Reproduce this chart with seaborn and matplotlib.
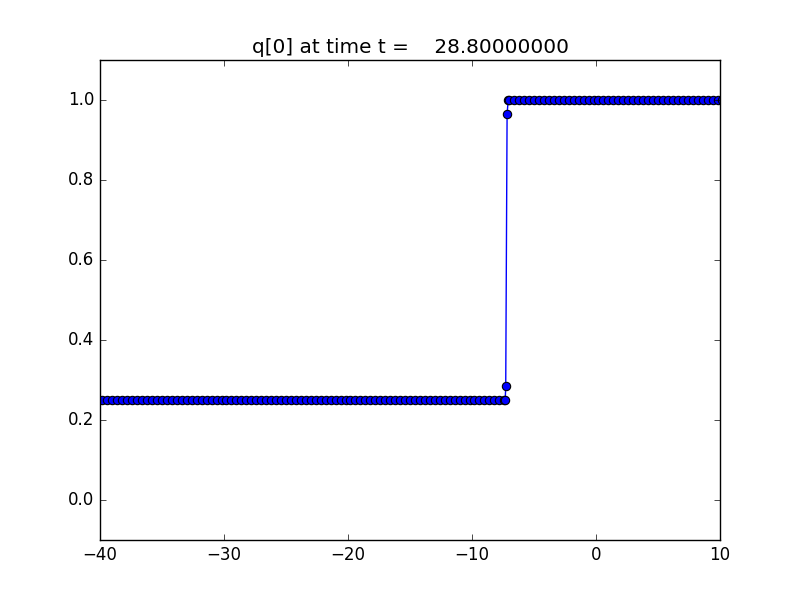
import matplotlib
matplotlib.use("Agg")
import matplotlib.pyplot as plt
import numpy as np
import pandas as pd
import seaborn as sns

# values
dx = 0.4
left_level = 0.25
right_level = 1.0
left_x = np.arange(-40.2, -7.3, dx)        # cell centres left of the jump
right_x = np.arange(-7.0, 10.3, dx)        # cell centres right of the jump
jump_x = [-7.32, -7.28, -7.17, -7.08]
jump_q = [0.25, 0.285, 0.965, 1.0]
t_out = 28.8

x = np.concatenate([left_x, jump_x, right_x])
q = np.concatenate([np.full(len(left_x), left_level), jump_q,
                    np.full(len(right_x), right_level)])
df = pd.DataFrame({"x": x, "q": q})

plt.style.use("classic")
plt.rcParams["font.family"] = ["DejaVu Sans"]

fig = plt.figure(figsize=(8, 6), dpi=100, facecolor="white")
ax = fig.add_axes([0.125, 0.1, 0.775, 0.8])
sns.lineplot(data=df, x="x", y="q", ax=ax, color="b", marker="o",
             markersize=6, markeredgecolor="k", markeredgewidth=0.8,
             linewidth=1, estimator=None, sort=True)
ax.set_xlim(-40, 10)
ax.set_ylim(-0.1, 1.1)
ax.set_xlabel("")
ax.set_ylabel("")
ax.set_title("q[0] at time t =    %.8f" % t_out)

fig.savefig("out.png", dpi=100, facecolor="white")
